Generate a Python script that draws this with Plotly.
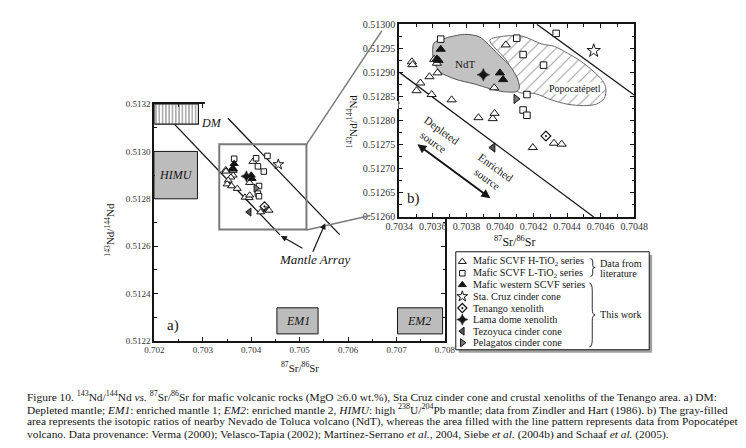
import plotly.graph_objects as go

# ---------------- data ----------------
h_tio2_x = [0.703475, 0.703479, 0.703608, 0.703624, 0.703628, 0.703580, 0.703526, 0.703503, 0.703593,
            0.703712, 0.703872, 0.703957, 0.703968, 0.703966, 0.704035, 0.704196, 0.704322, 0.704368]
h_tio2_y = [0.512922, 0.512916, 0.512927, 0.512919, 0.512899, 0.512891, 0.512878, 0.512862, 0.512854,
            0.512843, 0.512806, 0.512804, 0.512815, 0.512868, 0.512957, 0.512744, 0.512753, 0.512751]
l_tio2_x = [0.703647, 0.704100, 0.704138, 0.704260, 0.704161, 0.704138, 0.704161, 0.704335]
l_tio2_y = [0.512969, 0.512971, 0.512937, 0.512915, 0.512854, 0.512822, 0.512811, 0.512981]
west_x = [0.703647, 0.703624, 0.703634, 0.704000, 0.704019]
west_y = [0.512948, 0.512928, 0.512925, 0.512899, 0.512885]
cruz_x = [0.704559]
cruz_y = [0.512945]
tenango_x = [0.704274]
tenango_y = [0.512768]
lama_x = [0.703901]
lama_y = [0.512895]
tezoyuca_x = [0.703958]
tezoyuca_y = [0.512744]
pelagatos_x = [0.704096]
pelagatos_y = [0.512845]

# Nevado de Toluca (NdT) field and Popocatepetl field (panel b)
ndt_x = [0.703607, 0.703675, 0.703790, 0.703876, 0.703934, 0.703991, 0.704058, 0.704106, 0.704115,
         0.704096, 0.704020, 0.703943, 0.703847, 0.703733, 0.703647, 0.703608, 0.703599]
ndt_y = [0.512961, 0.512971, 0.512979, 0.512974, 0.512957, 0.512937, 0.512914, 0.512886, 0.512866,
         0.512860, 0.512860, 0.512866, 0.512876, 0.512886, 0.512900, 0.512920, 0.512947]
popo_x = [0.703939, 0.704020, 0.704134, 0.704249, 0.704325, 0.704402, 0.704479, 0.704555, 0.704612,
          0.704632, 0.704622, 0.704574, 0.704497, 0.704402, 0.704306, 0.704211, 0.704106, 0.704048]
popo_y = [0.512967, 0.512975, 0.512975, 0.512959, 0.512954, 0.512940, 0.512924, 0.512903, 0.512883,
          0.512866, 0.512846, 0.512834, 0.512831, 0.512834, 0.512843, 0.512856, 0.512860, 0.512920]

# mantle end-members (panel a)
em_names = ["HIMU", "EM1", "EM2"]
em_x0 = [0.70200, 0.70453, 0.70702]
em_x1 = [0.70289, 0.70538, 0.70795]
em_y0 = [0.51280, 0.51223, 0.51223]
em_y1 = [0.51300, 0.51234, 0.51234]
dm_x = [0.70200, 0.70291]
dm_y = [0.513115, 0.513200]

# mantle-array boundary lines
ma_low_x_a = [0.702413, 0.704593]
ma_low_y_a = [0.513115, 0.512648]
ma_up_x_a = [0.703520, 0.705825]
ma_up_y_a = [0.513140, 0.512649]
ma_low_x_b = [0.703400, 0.704559]
ma_low_y_b = [0.512900, 0.512600]
ma_up_x_b = [0.704220, 0.704800]
ma_up_y_b = [0.513000, 0.512853]

# zoom window drawn on panel a
zoom_x = [0.70334, 0.70514]
zoom_y = [0.51267, 0.51303]

# depleted / enriched arrow (panel b)
src_x = [0.703499, 0.703943]
src_y = [0.512753, 0.512639]

legend_labels = ["Mafic SCVF H-TiO<sub>2</sub> series", "Mafic SCVF L-TiO<sub>2</sub> series",
                 "Mafic western SCVF series", "Sta. Cruz cinder cone", "Tenango xenolith",
                 "Lama dome xenolith", "Tezoyuca cinder cone", "Pelagatos cinder cone"]

# ---------------- styling ----------------
W, H = 746, 448
SERIF = "Liberation Serif, Times New Roman, serif"
INK = "#151515"

series = [
    (h_tio2_x, h_tio2_y, "triangle-up", "white", 1.0, 7, 8),
    (l_tio2_x, l_tio2_y, "square", "white", 1.0, 5.5, 6.5),
    (west_x, west_y, "triangle-up", INK, 1.0, 7, 8),
    (cruz_x, cruz_y, "star", "white", 1.0, 8, 10),
    (tenango_x, tenango_y, "diamond-open-dot", INK, 1.2, 7, 7.5),
    (lama_x, lama_y, "star-diamond", INK, 0.5, 8, 9),
    (tezoyuca_x, tezoyuca_y, "triangle-left", "#555555", 1.0, 7, 8),
    (pelagatos_x, pelagatos_y, "triangle-right", "#777777", 1.0, 7, 8),
]

fig = go.Figure()

# ----- panel b fields -----
fig.add_trace(go.Scatter(x=popo_x + popo_x[:1], y=popo_y + popo_y[:1], mode="lines", fill="toself",
                         line=dict(color="#666666", width=1, shape="spline", smoothing=0.8),
                         fillcolor="white",
                         fillpattern=dict(shape="/", size=8, solidity=0.12, fgcolor="#333333",
                                          bgcolor="white"),
                         xaxis="x2", yaxis="y2", showlegend=False, hoverinfo="skip"))
fig.add_trace(go.Scatter(x=ndt_x + ndt_x[:1], y=ndt_y + ndt_y[:1], mode="lines", fill="toself",
                         line=dict(color="#555555", width=1, shape="spline", smoothing=0.8),
                         fillcolor="#c2c2c2", xaxis="x2", yaxis="y2", showlegend=False,
                         hoverinfo="skip"))

# ----- mantle array lines -----
for xs, ys, ax, ay in [(ma_low_x_a, ma_low_y_a, "x", "y"), (ma_up_x_a, ma_up_y_a, "x", "y"),
                       (ma_low_x_b, ma_low_y_b, "x2", "y2"), (ma_up_x_b, ma_up_y_b, "x2", "y2")]:
    fig.add_trace(go.Scatter(x=xs, y=ys, mode="lines", line=dict(color=INK, width=1.3),
                             xaxis=ax, yaxis=ay, showlegend=False, hoverinfo="skip"))

# ----- DM hatched box -----
fig.add_trace(go.Scatter(x=[dm_x[0], dm_x[1], dm_x[1], dm_x[0], dm_x[0]],
                         y=[dm_y[1], dm_y[1], dm_y[0], dm_y[0], dm_y[1]],
                         mode="lines", fill="toself", line=dict(color=INK, width=1.2),
                         fillcolor="white",
                         fillpattern=dict(shape="|", size=3.3, solidity=0.35, fgcolor=INK,
                                          bgcolor="white"),
                         xaxis="x", yaxis="y", showlegend=False, hoverinfo="skip"))

# ----- data points in both panels -----
for xs, ys, sym, col, lw, s_a, s_b in series:
    for ax, ay, sz in [("x", "y", s_a), ("x2", "y2", s_b)]:
        fig.add_trace(go.Scatter(x=xs, y=ys, mode="markers", xaxis=ax, yaxis=ay, showlegend=False,
                                 marker=dict(symbol=sym, size=sz, color=col,
                                             line=dict(color=INK, width=lw))))

# ----- hand-made legend (pixel axes x3/y3) -----
LEG_X0, LEG_X1, LEG_Y0, LEG_Y1 = 450.7, 651.7, 244.3, 345.0
ROW0, ROWH = 254.5, 11.9
for i, (xs, ys, sym, col, lw, s_a, s_b) in enumerate(series):
    fig.add_trace(go.Scatter(x=[457.5], y=[ROW0 + i * ROWH], mode="markers", xaxis="x3", yaxis="y3",
                             showlegend=False, hoverinfo="skip",
                             marker=dict(symbol=sym, size=s_a, color=col,
                                         line=dict(color=INK, width=lw))))

shapes = []
# white cover of the inset plot area (hides panel a frame behind it)
shapes.append(dict(type="rect", xref="x2", yref="y2", x0=0.7034, x1=0.7048, y0=0.5126, y1=0.5130,
                   fillcolor="white", line=dict(width=0), layer="below"))
# hide top frame of panel a where the inset sits
shapes.append(dict(type="rect", xref="x3", yref="y3", x0=190, x1=391, y0=89.5, y1=97.5,
                   fillcolor="white", line=dict(width=0), layer="below"))
# end-member boxes
for n, a0, a1, b0, b1 in zip(em_names, em_x0, em_x1, em_y0, em_y1):
    shapes.append(dict(type="rect", xref="x", yref="y", x0=a0, x1=a1, y0=b0, y1=b1,
                       fillcolor="#bcbcbc", line=dict(color=INK, width=1), layer="above"))
# zoom window
shapes.append(dict(type="rect", xref="x", yref="y", x0=zoom_x[0], x1=zoom_x[1], y0=zoom_y[0],
                   y1=zoom_y[1], line=dict(color="#7a7a7a", width=2), layer="above"))
# connector lines to the inset
shapes.append(dict(type="line", xref="x3", yref="y3", x0=295.7, y0=134, x1=374, y1=17,
                   line=dict(color="#7a7a7a", width=1.5), layer="above"))
shapes.append(dict(type="line", xref="x3", yref="y3", x0=295.7, y0=222, x1=362, y1=207,
                   line=dict(color="#7a7a7a", width=1.5), layer="above"))
# legend box with shadow
shapes.append(dict(type="rect", xref="x3", yref="y3", x0=LEG_X0 + 3, x1=LEG_X1 + 3, y0=LEG_Y0 + 3,
                   y1=LEG_Y1 + 3, fillcolor="#a0a0a0", line=dict(width=0), layer="below"))
shapes.append(dict(type="rect", xref="x3", yref="y3", x0=LEG_X0, x1=LEG_X1, y0=LEG_Y0, y1=LEG_Y1,
                   fillcolor="white", line=dict(color=INK, width=1), layer="below"))


def brace(x0, ya, yb, w):
    ym = (ya + yb) / 2
    h = yb - ya
    xm = x0 + w / 2
    return (f"M {x0},{ya} Q {xm},{ya} {xm},{ya + h * 0.12} L {xm},{ym - h * 0.1} "
            f"Q {xm},{ym} {x0 + w},{ym} Q {xm},{ym} {xm},{ym + h * 0.1} "
            f"L {xm},{yb - h * 0.12} Q {xm},{yb} {x0},{yb}")


shapes.append(dict(type="path", xref="x3", yref="y3", path=brace(590.5, 251.5, 269.5, 5),
                   line=dict(color=INK, width=0.9), layer="above"))
shapes.append(dict(type="path", xref="x3", yref="y3", path=brace(589.5, 276.5, 342.0, 6),
                   line=dict(color=INK, width=0.9), layer="above"))

anns = []


def txt(x, y, s, size, ref="3", italic=False, angle=0, xanchor="center", color=INK, **kw):
    if italic:
        s = f"<i>{s}</i>"
    anns.append(dict(x=x, y=y, text=s, xref="x" + ref if ref != "1" else "x",
                     yref="y" + ref if ref != "1" else "y", showarrow=False,
                     font=dict(family=SERIF, size=size, color=color), textangle=angle,
                     xanchor=xanchor, yanchor="middle", **kw))


# legend texts
for i, lab in enumerate(legend_labels):
    txt(466.5, ROW0 + i * ROWH, lab, 10.2, xanchor="left")
txt(598.5, 256.5, "Data from", 10.2, xanchor="left")
txt(598.5, 267.0, "literature", 10.2, xanchor="left")
txt(598.0, 308.5, "This work", 10.2, xanchor="left")

# panel a labels
txt(197, 112, "DM", 12, italic=True)
txt(160.3, 165, "HIMU", 12, italic=True)
txt(286.3, 315, "EM1", 12, italic=True)
txt(412.5, 315, "EM2", 12, italic=True)
txt(304, 252, "Mantle Array", 13, italic=True)
txt(157, 320, "a)", 15)
txt(289, 362.5, "<sup>87</sup>Sr/<sup>86</sup>Sr", 11)
txt(91, 222, "<sup>143</sup>Nd/<sup>144</sup>Nd", 11, angle=-90)

# panel b labels
txt(406.7, 190, "b)", 15)
txt(512, 234, "<sup>87</sup>Sr/<sup>86</sup>Sr", 12)
txt(343, 110, "<sup>143</sup>Nd/<sup>144</sup>Nd", 11, angle=-90)
txt(460, 51.7, "NdT", 11)
txt(575, 76.5, "Popocatépetl", 10, bgcolor="white", borderpad=0)
txt(432, 125, "Depleted<br>source", 11, angle=36)
txt(488, 163, "Enriched<br>source", 11, angle=36)

# arrows pointing at the mantle array lines (panel a)
anns.append(dict(x=0.704613, y=0.512643, xref="x", yref="y", ax=23, ay=13, text="",
                 showarrow=True, arrowhead=2, arrowsize=1, arrowwidth=1.2, arrowcolor=INK))
anns.append(dict(x=0.705527, y=0.512697, xref="x", yref="y", ax=-13, ay=30, text="",
                 showarrow=True, arrowhead=2, arrowsize=1, arrowwidth=1.2, arrowcolor=INK))
# depleted <-> enriched arrow (panel b)
anns.append(dict(x=src_x[1], y=src_y[1], ax=src_x[0], ay=src_y[0], xref="x2", yref="y2",
                 axref="x2", ayref="y2", text="", showarrow=True, arrowhead=2,
                 arrowside="end+start", arrowsize=0.9, arrowwidth=2, arrowcolor=INK))

# caption
caption = [
    "Figure 10. <sup>143</sup>Nd/<sup>144</sup>Nd <i>vs.</i> <sup>87</sup>Sr/<sup>86</sup>Sr for mafic volcanic rocks (MgO ≥6.0 wt.%), Sta Cruz cinder cone and crustal xenoliths of the Tenango area. a) DM:",
    "Depleted mantle; <i>EM1</i>: enriched mantle 1; <i>EM2</i>: enriched mantle 2, <i>HIMU</i>: high <sup>238</sup>U/<sup>204</sup>Pb mantle; data from Zindler and Hart (1986). b) The gray-filled",
    "area represents the isotopic ratios of nearby Nevado de Toluca volcano (NdT), whereas the area filled with the line pattern represents data from Popocatépetl",
    "volcano. Data provenance: Verma (2000); Velasco-Tapia (2002); Martínez-Serrano <i>et al.</i>, 2004, Siebe <i>et al.</i> (2004b) and Schaaf <i>et al.</i> (2005).",
]
for i, line in enumerate(caption):
    txt(3, 393.3 + i * 12.8, line, 11.4, xanchor="left")

# ---------------- axes ----------------
def axis_common(size):
    return dict(showline=True, linewidth=2, linecolor=INK, mirror="ticks", ticks="inside",
                ticklen=4, tickwidth=1.3, tickcolor=INK, showgrid=False, zeroline=False,
                tickfont=dict(family=SERIF, size=size, color="#333333"), fixedrange=True)


fig.update_layout(
    width=W, height=H, margin=dict(l=0, r=0, t=0, b=0),
    paper_bgcolor="white", plot_bgcolor="rgba(0,0,0,0)", showlegend=False,
    xaxis=dict(domain=[137.5 / W, 439.5 / W], range=[0.702, 0.708], anchor="y", dtick=0.001,
               tick0=0.702, tickformat=".3f", ticklabelstandoff=-1,
               minor=dict(dtick=0.0005, ticks="inside", ticklen=2.5, tickcolor=INK),
               **axis_common(9)),
    yaxis=dict(domain=[1 - 336 / H, 1 - 92.5 / H], range=[0.5122, 0.5132], anchor="x",
               dtick=0.0002, tick0=0.5122, tickformat=".4f",
               minor=dict(dtick=0.0001, ticks="inside", ticklen=2.5, tickcolor=INK),
               **axis_common(9)),
    xaxis2=dict(domain=[392 / W, 636 / W], range=[0.7034, 0.7048], anchor="y2", dtick=0.0002,
                tick0=0.7034, tickformat=".4f", ticklabelstandoff=-1,
                minor=dict(dtick=0.0001, ticks="inside", ticklen=2.5, tickcolor=INK),
                **axis_common(10)),
    yaxis2=dict(domain=[1 - 208.5 / H, 1 - 10.5 / H], range=[0.5126, 0.5130], anchor="x2",
                dtick=0.00005, tick0=0.5126, tickformat=".5f",
                minor=dict(dtick=0.000025, ticks="inside", ticklen=2.5, tickcolor=INK),
                **axis_common(10)),
    xaxis3=dict(domain=[0, 1], range=[0, W], anchor="y3", visible=False, fixedrange=True),
    yaxis3=dict(domain=[0, 1], range=[H, 0], anchor="x3", visible=False, fixedrange=True),
    shapes=shapes, annotations=anns,
)

fig.write_html("out.html")
